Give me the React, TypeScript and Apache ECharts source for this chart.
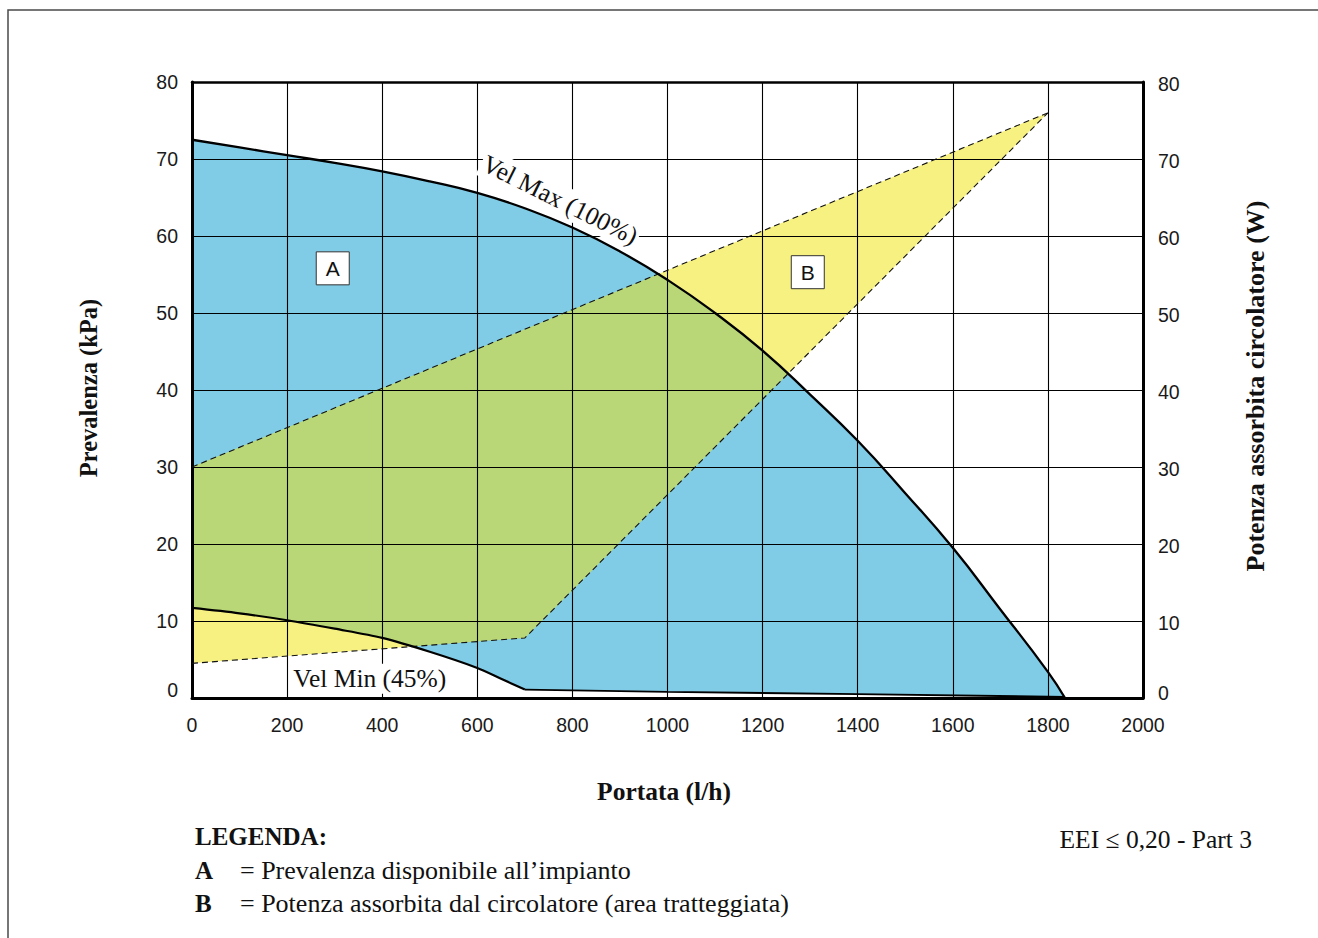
import React, { useEffect, useRef } from "react";
import * as echarts from "echarts";

// ---- data (flow l/h, value) ----
const xTicksMax = 2000;
const yTicksMax = 80;

// Vel Max (100%) curve – head (kPa)
const velMax: [number, number][] = [
  [0, 72.5], [100, 71.5], [200, 70.5], [300, 69.5], [400, 68.4], [500, 67.1],
  [600, 65.6], [700, 63.6], [800, 61.1], [900, 58.0], [1000, 54.3], [1100, 50.0],
  [1200, 45.1], [1300, 39.4], [1400, 33.4], [1500, 26.6], [1600, 19.5],
  [1700, 11.5], [1800, 3.4], [1836, 0],
];

// Vel Min (45%) curve – head (kPa); curved up to 700 l/h, then nearly flat
const velMin: [number, number][] = [
  [0, 11.7], [100, 11.0], [200, 10.1], [300, 9.0], [400, 7.8], [500, 6.0],
  [600, 3.9], [650, 2.5], [700, 1.1], [1000, 0.8], [1400, 0.5], [1836, 0.15],
];
const velMinKneeIndex = 8; // index of the 700 l/h point

// Power absorbed (W) – dashed envelope (area B)
const powerUpper: [number, number][] = [[0, 30], [1800, 76]];
const powerLower: [number, number][] = [[0, 4.5], [700, 7.8], [1800, 76]];

// annotation anchors (data units)
const areaLabels = [
  { name: "A", at: [296, 55.8] },
  { name: "B", at: [1295, 55.3] },
];
const curveLabels = [
  { text: "Vel Max (100%)", at: [774, 64.7], rotate: -26.5 },
  { text: "Vel Min (45%)", at: [374, 2.5], rotate: 0 },
];

const COLORS = {
  blue: "#80cbe5",
  yellow: "#f7f182",
  green: "#b9d776",
};

const SANS = "'Liberation Sans', Arial, sans-serif";
const SERIF = "'Liberation Serif', 'Times New Roman', serif";

type P = [number, number];

function cross(ax: number, ay: number, bx: number, by: number) {
  return ax * by - ay * bx;
}

// Sutherland–Hodgman clipping of subject polygon by convex clip polygon
function clipPolygon(subject: P[], clip: P[]): P[] {
  let area = 0;
  for (let i = 0; i < clip.length; i++) {
    const a = clip[i];
    const b = clip[(i + 1) % clip.length];
    area += cross(a[0], a[1], b[0], b[1]);
  }
  const s = area >= 0 ? 1 : -1;
  let output = subject.slice();
  for (let i = 0; i < clip.length; i++) {
    const a = clip[i];
    const b = clip[(i + 1) % clip.length];
    const ex = b[0] - a[0];
    const ey = b[1] - a[1];
    const inside = (p: P) => s * cross(ex, ey, p[0] - a[0], p[1] - a[1]) >= 0;
    const inter = (p: P, q: P): P => {
      const dx = q[0] - p[0];
      const dy = q[1] - p[1];
      const den = cross(ex, ey, dx, dy);
      const t = den === 0 ? 0 : cross(ex, ey, a[0] - p[0], a[1] - p[1]) / den;
      return [p[0] + t * dx, p[1] + t * dy];
    };
    const input = output;
    output = [];
    if (!input.length) break;
    for (let j = 0; j < input.length; j++) {
      const cur = input[j];
      const prev = input[(j + input.length - 1) % input.length];
      if (inside(cur)) {
        if (!inside(prev)) output.push(inter(prev, cur));
        output.push(cur);
      } else if (inside(prev)) {
        output.push(inter(prev, cur));
      }
    }
  }
  return output;
}

const polyA = (): [number, number][] => [...velMax, ...velMin.slice().reverse()];
const polyB = (): [number, number][] => [
  ...powerLower,
  ...powerUpper.slice(0, powerUpper.length - 1).reverse(),
];

function areaSeries(
  id: string,
  fill: string,
  z2: number,
  build: (api: any) => P[]
) {
  return {
    id,
    type: "custom",
    xAxisIndex: 0,
    yAxisIndex: 0,
    silent: true,
    z: 1,
    clip: false,
    data: [[0, 0]],
    renderItem: (_params: any, api: any) => ({
      type: "polygon",
      z2,
      shape: { points: build(api) },
      style: { fill, stroke: null },
    }),
  };
}

const toPx = (api: any, pts: [number, number][]) =>
  pts.map((p) => api.coord(p) as P);

export default function App() {
  const ref = useRef<HTMLDivElement>(null);

  useEffect(() => {
    if (!ref.current) return;
    const chart = echarts.init(ref.current, null, { renderer: "svg" });

    const labelStyle = {
      fontFamily: SANS,
      fontSize: 19.5,
      color: "#1a1a1a",
    };

    const curveLine = (name: string, data: [number, number][], width: number, smooth: number | boolean) => ({
      name,
      type: "line",
      data,
      symbol: "none",
      silent: true,
      smooth,
      z: 7,
      lineStyle: { color: "#000", width },
    });

    const option: any = {
      animation: false,
      backgroundColor: "#ffffff",
      grid: { left: 192, right: 175, top: 82, bottom: 240, containLabel: false },
      xAxis: [
        {
          type: "value",
          min: 0,
          max: xTicksMax,
          interval: 200,
          position: "bottom",
          z: 3,
          axisLine: { show: true, onZero: false, lineStyle: { color: "#000", width: 3 } },
          axisTick: { show: false },
          axisLabel: { ...labelStyle, margin: 17, formatter: (v: number) => String(v) },
          splitLine: { show: true, lineStyle: { color: "#000", width: 1.1 } },
        },
        {
          type: "value",
          min: 0,
          max: xTicksMax,
          position: "top",
          z: 3,
          axisLine: { show: true, onZero: false, lineStyle: { color: "#000", width: 2.5 } },
          axisTick: { show: false },
          axisLabel: { show: false },
          splitLine: { show: false },
        },
      ],
      yAxis: [
        {
          type: "value",
          min: 0,
          max: yTicksMax,
          interval: 10,
          position: "left",
          z: 3,
          axisLine: { show: true, onZero: false, lineStyle: { color: "#000", width: 3 } },
          axisTick: { show: false },
          axisLabel: {
            ...labelStyle,
            margin: 14,
            formatter: (v: number) => (v === 0 ? "{z|0}" : String(v)),
            rich: { z: { ...labelStyle, padding: [0, 0, 16, 0] } },
          },
          splitLine: { show: true, lineStyle: { color: "#000", width: 1.1 } },
        },
        {
          type: "value",
          min: 0,
          max: yTicksMax,
          interval: 10,
          position: "right",
          z: 3,
          axisLine: { show: true, onZero: false, lineStyle: { color: "#000", width: 3 } },
          axisTick: { show: false },
          axisLabel: {
            ...labelStyle,
            margin: 15,
            formatter: (v: number) => (v === 0 ? "{z|0}" : "{n|" + v + "}"),
            rich: {
              z: { ...labelStyle, padding: [0, 0, 10, 0] },
              n: { ...labelStyle, padding: [4, 0, 0, 0] },
            },
          },
          splitLine: { show: false },
        },
      ],
      series: [
        // B: power envelope (yellow)
        areaSeries("areaB", COLORS.yellow, 1, (api) => toPx(api, polyB())),
        // A: available head (blue)
        areaSeries("areaA", COLORS.blue, 2, (api) => toPx(api, polyA())),
        // overlap A ∩ B (green)
        areaSeries("areaAB", COLORS.green, 3, (api) =>
          clipPolygon(toPx(api, polyA()), toPx(api, polyB()))
        ),
        {
          name: "Potenza sup",
          type: "line",
          yAxisIndex: 1,
          data: powerUpper,
          symbol: "none",
          silent: true,
          z: 7,
          lineStyle: { color: "#111", width: 1.1, type: [6, 4] },
        },
        {
          name: "Potenza inf",
          type: "line",
          yAxisIndex: 1,
          data: powerLower,
          symbol: "none",
          silent: true,
          z: 7,
          lineStyle: { color: "#111", width: 1.1, type: [6, 4] },
        },
        curveLine("Vel Min (45%)", velMin.slice(0, velMinKneeIndex + 1), 2.2, 0.3),
        curveLine("Vel Min (45%) coda", velMin.slice(velMinKneeIndex), 1.8, false),
        {
          ...curveLine("Vel Max (100%)", velMax, 2.3, 0.5),
          markPoint: {
            z: 6,
            silent: true,
            data: [
              ...areaLabels.map((a) => ({
                coord: a.at,
                symbol: "rect",
                symbolSize: [33, 33],
                itemStyle: { color: "#ffffff", borderColor: "#333", borderWidth: 1 },
                label: {
                  show: true,
                  position: "inside",
                  formatter: a.name,
                  fontFamily: SANS,
                  fontSize: 21,
                  color: "#111",
                },
              })),
              ...curveLabels.map((c) => ({
                coord: c.at,
                symbol: "rect",
                symbolSize: [1, 1],
                itemStyle: { color: "rgba(0,0,0,0)", borderWidth: 0 },
                label: {
                  show: true,
                  position: "inside",
                  formatter: c.text,
                  rotate: c.rotate,
                  fontFamily: SERIF,
                  fontSize: 25.5,
                  lineHeight: 24,
                  color: "#111",
                  backgroundColor: "#ffffff",
                  padding: [6, 2, 0, 2],
                },
              })),
            ],
          },
        },
      ],
      graphic: [
        {
          type: "rect",
          silent: true,
          shape: { x: 8, y: 10, width: 1400, height: 1000 },
          style: { fill: "none", stroke: "#4a4a4a", lineWidth: 1.5 },
          z: 0,
        },
        {
          type: "text",
          x: 88,
          y: 388,
          rotation: Math.PI / 2,
          style: {
            text: "Prevalenza (kPa)",
            font: `bold 24.5px ${SERIF}`,
            fill: "#111",
            textAlign: "center",
            textVerticalAlign: "middle",
          },
        },
        {
          type: "text",
          x: 1255,
          y: 386,
          rotation: Math.PI / 2,
          style: {
            text: "Potenza assorbita circolatore (W)",
            font: `bold 26px ${SERIF}`,
            fill: "#111",
            textAlign: "center",
            textVerticalAlign: "middle",
          },
        },
        {
          type: "text",
          x: 664,
          y: 791,
          style: {
            text: "Portata (l/h)",
            font: `bold 25.5px ${SERIF}`,
            fill: "#111",
            textAlign: "center",
            textVerticalAlign: "middle",
          },
        },
        {
          type: "text",
          x: 195,
          y: 836,
          style: {
            text: "LEGENDA:",
            font: `bold 25px ${SERIF}`,
            fill: "#111",
            textAlign: "left",
            textVerticalAlign: "middle",
          },
        },
        {
          type: "text",
          x: 195,
          y: 870,
          style: {
            text: "A",
            font: `bold 25px ${SERIF}`,
            fill: "#111",
            textAlign: "left",
            textVerticalAlign: "middle",
          },
        },
        {
          type: "text",
          x: 240,
          y: 870,
          style: {
            text: "= Prevalenza disponibile all\u2019impianto",
            font: `26px ${SERIF}`,
            fill: "#111",
            textAlign: "left",
            textVerticalAlign: "middle",
          },
        },
        {
          type: "text",
          x: 195,
          y: 903,
          style: {
            text: "B",
            font: `bold 25px ${SERIF}`,
            fill: "#111",
            textAlign: "left",
            textVerticalAlign: "middle",
          },
        },
        {
          type: "text",
          x: 240,
          y: 903,
          style: {
            text: "= Potenza assorbita dal circolatore (area tratteggiata)",
            font: `26px ${SERIF}`,
            fill: "#111",
            textAlign: "left",
            textVerticalAlign: "middle",
          },
        },
        {
          type: "text",
          x: 1252,
          y: 839,
          style: {
            text: "EEI \u2264 0,20 - Part 3",
            font: `25.5px ${SERIF}`,
            fill: "#111",
            textAlign: "right",
            textVerticalAlign: "middle",
          },
        },
      ],
    };

    chart.setOption(option);
    return () => chart.dispose();
  }, []);

  return (
    <div
      ref={ref}
      style={{
        position: "fixed",
        left: 0,
        top: 0,
        width: 1318,
        height: 938,
        background: "#ffffff",
      }}
    />
  );
}
